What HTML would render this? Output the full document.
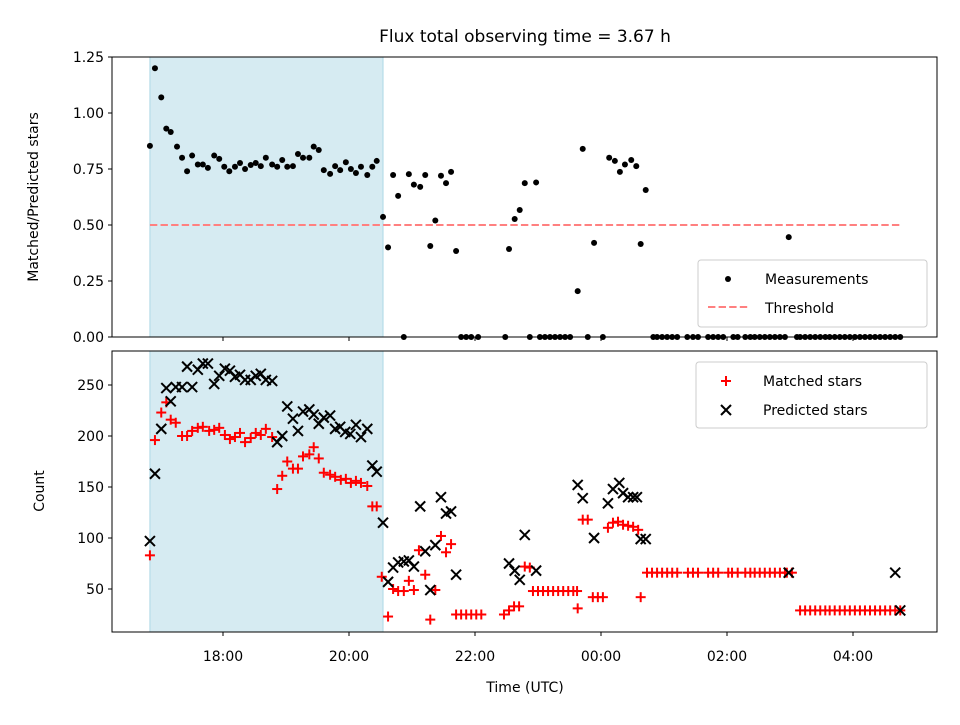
<!DOCTYPE html>
<html><head><meta charset="utf-8"><style>
body{margin:0;background:#fff}
svg text{font-family:"DejaVu Sans","Liberation Sans",sans-serif;fill:#000}
</style></head><body>
<svg id="chart" width="960" height="720" xmlns="http://www.w3.org/2000/svg"></svg>
<script>
// ---- data (time in hours UTC, >24 = next day) ----
const ratioTimes=[16.84,16.92,17.02,17.10,17.17,17.27,17.35,17.43,17.51,17.60,17.68,17.76,17.86,17.94,18.02,18.10,18.19,18.27,18.35,18.44,18.52,18.60,18.68,18.78,18.86,18.94,19.02,19.11,19.19,19.27,19.37,19.44,19.52,19.60,19.70,19.78,19.86,19.95,20.03,20.11,20.19,20.29,20.37,20.44,20.54,20.62,20.70,20.78,20.87,20.95,21.03,21.13,21.21,21.29,21.37,21.46,21.54,21.62,21.70,21.78,21.86,21.94,22.05,22.48,22.54,22.63,22.71,22.79,22.87,22.97,23.03,23.11,23.19,23.27,23.35,23.43,23.51,23.63,23.71,23.79,23.89,24.03,24.13,24.22,24.30,24.38,24.48,24.56,24.63,24.71,24.83,24.89,24.97,25.05,25.13,25.21,25.37,25.46,25.54,25.70,25.78,25.86,25.94,26.10,26.17,26.29,26.37,26.44,26.52,26.60,26.68,26.76,26.84,26.92,26.98,27.11,27.16,27.24,27.32,27.40,27.48,27.56,27.63,27.71,27.79,27.87,27.95,28.03,28.11,28.19,28.27,28.35,28.43,28.51,28.59,28.67,28.75];
const ratioValues=[0.853,1.20,1.07,0.93,0.915,0.85,0.80,0.74,0.81,0.77,0.77,0.755,0.81,0.795,0.76,0.74,0.76,0.777,0.75,0.768,0.777,0.763,0.80,0.77,0.76,0.79,0.76,0.763,0.817,0.80,0.80,0.85,0.835,0.745,0.728,0.763,0.745,0.78,0.75,0.732,0.76,0.723,0.76,0.786,0.536,0.40,0.723,0.63,0,0.727,0.68,0.67,0.723,0.406,0.52,0.72,0.687,0.737,0.384,0,0,0,0,0,0.393,0.527,0.567,0.687,0,0.69,0,0,0,0,0,0,0,0.205,0.84,0,0.42,0,0.80,0.786,0.737,0.77,0.79,0.763,0.415,0.656,0,0,0,0,0,0,0,0,0,0,0,0,0,0,0,0,0,0,0,0,0,0,0,0,0.446,0,0,0,0,0,0,0,0,0,0,0,0,0,0,0,0,0,0,0,0,0,0,1.11,0.83];
const matchedTimes=[16.84,16.92,17.02,17.10,17.17,17.25,17.35,17.43,17.51,17.60,17.68,17.78,17.86,17.94,18.03,18.11,18.19,18.27,18.35,18.44,18.52,18.60,18.68,18.78,18.86,18.94,19.02,19.11,19.19,19.27,19.37,19.44,19.52,19.60,19.70,19.78,19.87,19.95,20.03,20.11,20.19,20.29,20.37,20.44,20.52,20.62,20.70,20.78,20.87,20.95,21.03,21.11,21.21,21.29,21.37,21.46,21.54,21.62,21.70,21.78,21.86,21.94,22.02,22.10,22.46,22.54,22.62,22.70,22.79,22.87,22.92,23.00,23.08,23.16,23.24,23.32,23.40,23.48,23.56,23.62,23.63,23.71,23.79,23.87,23.95,24.03,24.11,24.19,24.27,24.35,24.43,24.51,24.59,24.63,24.73,24.81,24.89,24.97,25.05,25.13,25.21,25.38,25.46,25.54,25.70,25.78,25.86,26.02,26.08,26.17,26.29,26.37,26.44,26.52,26.60,26.68,26.76,26.84,26.92,26.95,27.03,27.16,27.24,27.32,27.40,27.48,27.56,27.63,27.71,27.79,27.87,27.95,28.03,28.11,28.19,28.27,28.35,28.43,28.51,28.59,28.67,28.75];
const matchedValues=[83,196,223,233,216,213,200,200,205,208,209,205,206,208,201,197,199,203,194,198,203,201,207,199,148,161,175,168,168,180,182,189,178,164,162,160,157,158,154,156,154,151,131,131,62,23,50,48,48,58,49,88,64,20,49,102,86,94,25,25,25,25,25,25,25,29,33,33,72,71,48,48,48,48,48,48,48,48,48,48,31,118,118,42,42,42,110,115,116,113,112,111,108,42,66,66,66,66,66,66,66,66,66,66,66,66,66,66,66,66,66,66,66,66,66,66,66,66,66,66,66,29,29,29,29,29,29,29,29,29,29,29,29,29,29,29,29,29,29,29,29,29,75,23];
const predictedTimes=[16.84,16.92,17.02,17.10,17.17,17.25,17.35,17.43,17.51,17.60,17.68,17.76,17.86,17.94,18.03,18.11,18.19,18.27,18.35,18.44,18.52,18.60,18.68,18.78,18.86,18.94,19.02,19.11,19.19,19.27,19.37,19.44,19.52,19.60,19.70,19.78,19.86,19.94,20.02,20.11,20.19,20.29,20.37,20.44,20.54,20.62,20.70,20.78,20.87,20.95,21.03,21.13,21.21,21.29,21.37,21.46,21.54,21.62,21.70,22.54,22.63,22.71,22.79,22.97,23.63,23.71,23.89,24.11,24.19,24.29,24.35,24.43,24.51,24.57,24.63,24.71,26.98,28.67,28.75];
const predictedValues=[97,163,207,247,234,248,248,268,248,265,271,271,251,259,266,264,258,260,255,255,259,261,255,254,194,200,229,217,205,224,226,221,212,218,220,207,209,204,202,211,199,207,171,165,115,57,71,76,77,78,72,131,87,49,93,140,124,126,64,75,68,59,103,68,152,139,100,134,148,154,144,140,140,140,99,99,66,66,29];
const shadeStart=16.84, shadeEnd=20.54, threshold=0.5;
const xTicks=[18,20,22,24,26,28];
const xTickLabels=["18:00","20:00","22:00","00:00","02:00","04:00"];
const topTicks=[0,0.25,0.5,0.75,1.0,1.25];
const topTickLabels=["0.00","0.25","0.50","0.75","1.00","1.25"];
const botTicks=[50,100,150,200,250];
const botTickLabels=["50","100","150","200","250"];

const svg=document.getElementById('chart');
const NS="http://www.w3.org/2000/svg";
function mk(tag,attrs,parent){const e=document.createElementNS(NS,tag);for(const k in attrs)e.setAttribute(k,attrs[k]);(parent||svg).appendChild(e);return e;}
const L=112,R=937;
const xS=h=>223+(h-18)*63;
const T={top:57,bot:337};const B={top:351,bot:632};
const yT=v=>337-v*224;
const yB=v=>640-v*1.02;

for(const P of [T,B]){
  const r=mk('rect',{x:xS(shadeStart),y:P.top,width:xS(shadeEnd)-xS(shadeStart),height:P.bot-P.top,fill:'#add8e6','fill-opacity':0.5,stroke:'#add8e6'});
  
  
}
const th=mk('line',{x1:xS(16.84),x2:xS(28.75),y1:yT(threshold),y2:yT(threshold),stroke:'#ff8080','stroke-width':2,'stroke-dasharray':'7.4,3.2'});


ratioTimes.forEach((t,i)=>{
  const c=mk('circle',{cx:xS(t),cy:yT(ratioValues[i]),r:3,fill:'#000'});
  
  
});
function plus(x,y,col){const g=mk('g',{stroke:col,'stroke-width':2});mk('line',{x1:x-5,x2:x+5,y1:y,y2:y},g);mk('line',{x1:x,x2:x,y1:y-5,y2:y+5},g);return g;}
function cross(x,y,col){const g=mk('g',{stroke:col,'stroke-width':2});mk('line',{x1:x-5,x2:x+5,y1:y-5,y2:y+5},g);mk('line',{x1:x-5,x2:x+5,y1:y+5,y2:y-5},g);return g;}
matchedTimes.forEach((t,i)=>{
  const g=plus(xS(t),yB(matchedValues[i]),'#ff0000');
  
  
});
predictedTimes.forEach((t,i)=>{
  const g=cross(xS(t),yB(predictedValues[i]),'#000');
  
  
});
for(const [P,nm] of [[T,'top-axes-frame'],[B,'bottom-axes-frame']]){
  const f=mk('rect',{x:L,y:P.top,width:R-L,height:P.bot-P.top,fill:'none',stroke:'#000','stroke-width':1});
  
  
}
xTicks.forEach((h,i)=>{
  mk('line',{x1:xS(h),x2:xS(h),y1:T.bot,y2:T.bot+4,stroke:'#000'});
  mk('line',{x1:xS(h),x2:xS(h),y1:B.bot,y2:B.bot+4,stroke:'#000'});
  const t=mk('text',{x:xS(h),y:B.bot+29,'text-anchor':'middle','font-size':14});
  t.textContent=xTickLabels[i];
  
  
});
topTicks.forEach((v,i)=>{
  mk('line',{x1:L-4,x2:L,y1:yT(v),y2:yT(v),stroke:'#000'});
  const t=mk('text',{x:L-8,y:yT(v)+5,'text-anchor':'end','font-size':14});
  t.textContent=topTickLabels[i];
  
  
});
botTicks.forEach((v,i)=>{
  mk('line',{x1:L-4,x2:L,y1:yB(v),y2:yB(v),stroke:'#000'});
  const t=mk('text',{x:L-8,y:yB(v)+5,'text-anchor':'end','font-size':14});
  t.textContent=botTickLabels[i];
  
  
});
</script>
<svg style="position:absolute;left:0;top:0" width="960" height="720" xmlns="http://www.w3.org/2000/svg">
<text x="525" y="42" text-anchor="middle" font-size="17">Flux total observing time = 3.67 h</text>
<text transform="translate(38,197) rotate(-90)" text-anchor="middle" font-size="14">Matched/Predicted stars</text>
<text transform="translate(44,491) rotate(-90)" text-anchor="middle" font-size="14">Count</text>
<text x="525" y="692" text-anchor="middle" font-size="14">Time (UTC)</text>
<g>
<rect x="698" y="260" width="229" height="67" rx="3" fill="#fff" fill-opacity="0.8" stroke="#ccc"/>
<circle cx="728" cy="279" r="3" fill="#000"/>
<text x="765" y="284" font-size="14">Measurements</text>
<line x1="708" x2="748" y1="307" y2="307" stroke="#ff8080" stroke-width="2" stroke-dasharray="7.4,3.2"/>
<text x="765" y="313" font-size="14">Threshold</text>
</g>
<g>
<rect x="696" y="362" width="231" height="66" rx="3" fill="#fff" fill-opacity="0.8" stroke="#ccc"/>
<g stroke="#ff0000" stroke-width="2"><line x1="721" x2="731" y1="381" y2="381"/><line x1="726" x2="726" y1="376" y2="386"/></g>
<text x="763" y="386" font-size="14">Matched stars</text>
<g stroke="#000" stroke-width="2"><line x1="721" x2="731" y1="405" y2="415"/><line x1="721" x2="731" y1="415" y2="405"/></g>
<text x="763" y="415" font-size="14">Predicted stars</text>
</g>
</svg>
</body></html>
